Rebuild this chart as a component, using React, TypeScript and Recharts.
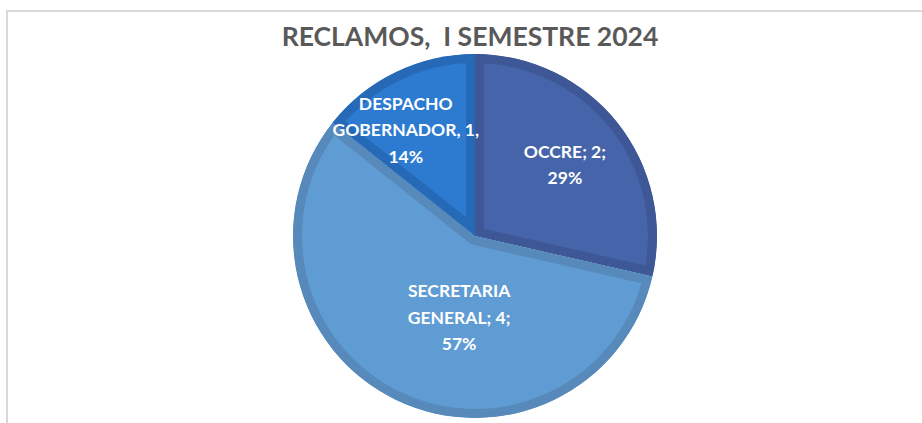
import { PieChart, Pie, Cell, Sector } from 'recharts';

// Reclamos por dependencia, I semestre 2024
const categories = ['OCCRE', 'SECRETARIA GENERAL', 'DESPACHO GOBERNADOR'];
const values = [2, 4, 1];
const labelLines = [
  ['OCCRE; 2;', '29%'],
  ['SECRETARIA', 'GENERAL; 4;', '57%'],
  ['DESPACHO', 'GOBERNADOR, 1,', '14%'],
];

const fills = ['#4664A9', '#5F9CD3', '#2C7BD1'];
const borders = ['#3E5796', '#578ABB', '#2569B7'];

// Excel "best fit" label spots: radius and angle nudge per slice
const labelRadius = [115, 83, 127];
const labelShift = [0, 14.7, 7.3];

const data = categories.map((name, i) => ({ name, value: values[i] }));

const RAD = Math.PI / 180;

// sector with its stroke clipped to itself, so the border sits inside the slice
function InnerBorderSector(props: any) {
  const { cx, cy, innerRadius, outerRadius, startAngle, endAngle, fill, stroke } = props;
  const id = `slice-clip-${Math.round(startAngle * 10)}`;
  return (
    <g>
      <defs>
        <clipPath id={id}>
          <Sector cx={cx} cy={cy} innerRadius={innerRadius} outerRadius={outerRadius}
            startAngle={startAngle} endAngle={endAngle} />
        </clipPath>
      </defs>
      <Sector cx={cx} cy={cy} innerRadius={innerRadius} outerRadius={outerRadius}
        startAngle={startAngle} endAngle={endAngle} fill={fill} stroke={stroke}
        strokeWidth={18} clipPath={`url(#${id})`} />
    </g>
  );
}

function renderLabel(props: any) {
  const { cx, cy, midAngle, index } = props;
  const a = (midAngle + labelShift[index]) * RAD;
  const r = labelRadius[index];
  const x = cx + r * Math.cos(a);
  const y = cy - r * Math.sin(a);
  const lines = labelLines[index];
  const lh = 26.5;
  return (
    <text x={x} y={y} textAnchor="middle" fill="#FFFFFF"
      style={{ fontFamily: 'Lato, sans-serif', fontWeight: 700, fontSize: 17.5 }}>
      {lines.map((t, k) => (
        <tspan key={k} x={x} y={y + (k - (lines.length - 1) / 2) * lh} dominantBaseline="central">
          {t}
        </tspan>
      ))}
    </text>
  );
}

export default function App() {
  return (
    <div style={{ position: 'absolute', left: 0, top: 0, width: 922, height: 423, overflow: 'hidden', background: '#fff' }}>
      <div style={{
        position: 'absolute', left: 6, top: 10, width: 940, height: 440,
        border: '2px solid #D9D9D9', boxSizing: 'border-box',
      }} />
      <div style={{
        position: 'absolute', left: 0, top: 19, width: 940, textAlign: 'center',
        fontFamily: 'Lato, sans-serif', fontWeight: 700, fontSize: 26.5,
        color: '#595959', lineHeight: '34px', whiteSpace: 'pre',
      }}>
        {'RECLAMOS,  I SEMESTRE 2024'}
      </div>
      <div style={{ position: 'absolute', left: 0, top: 0 }}>
        <PieChart width={922} height={423} margin={{ top: 0, right: 0, bottom: 0, left: 0 }}>
          <Pie
            data={data}
            dataKey="value"
            nameKey="name"
            cx={475}
            cy={236}
            outerRadius={182}
            startAngle={90}
            endAngle={-270}
            stroke="none"
            shape={InnerBorderSector}
            label={renderLabel}
            labelLine={false}
            isAnimationActive={false}
          >
            {data.map((d, i) => (
              <Cell key={d.name} fill={fills[i]} stroke={borders[i]} />
            ))}
          </Pie>
        </PieChart>
      </div>
    </div>
  );
}
